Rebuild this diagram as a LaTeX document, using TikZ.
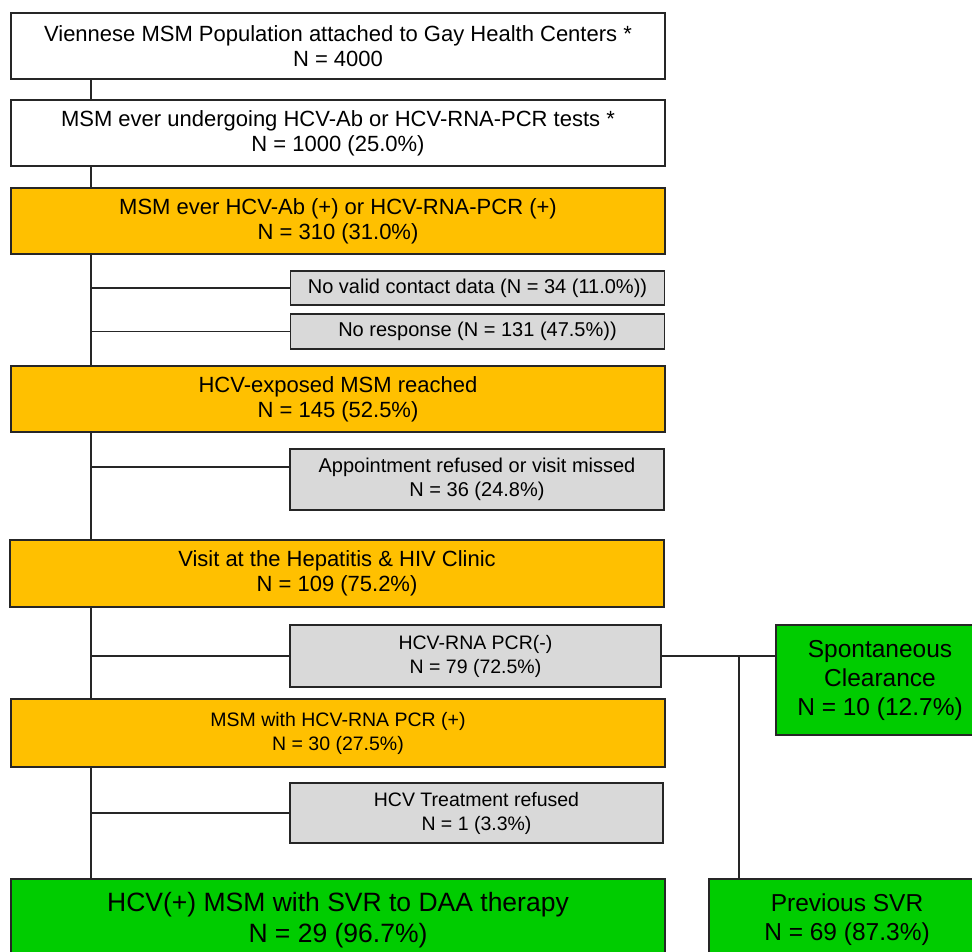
\documentclass[tikz,border=0pt]{standalone}
\usepackage{fontspec}
\setmainfont{Liberation Sans}
\usepackage{tikz}
\definecolor{figOrange}{HTML}{FFC000}
\definecolor{figGreen}{HTML}{00CC00}
\definecolor{figGray}{HTML}{D9D9D9}
\definecolor{figLine}{HTML}{262626}

\begin{document}
\begin{tikzpicture}[
  x=1pt, y=-1pt,
  box/.style={
    draw=figLine, line width=1.6pt, align=center, inner sep=0pt,
    font=\fontsize{22}{25}\selectfont,
  },
  mainbox/.style={box, minimum width=654pt, minimum height=66pt},
  whitebox/.style={mainbox, fill=white},
  orangebox/.style={mainbox, fill=figOrange},
  graybox/.style={box, fill=figGray, minimum width=374pt,
    font=\fontsize{20}{24}\selectfont},
  greenbox/.style={box, fill=figGreen, font=\fontsize{24.5}{29}\selectfont},
  smalltext/.style={font=\fontsize{19.5}{24}\selectfont},
  link/.style={draw=figLine, line width=1.6pt},
]

\useasboundingbox (0,0) rectangle (972,952);
\clip (0,0) rectangle (972,952);

% Main flow (left column)
\node[whitebox] (pop) at (338, 46) {Viennese MSM Population attached to Gay Health Centers *\\N = 4000};
\node[whitebox] (tested) at (338, 133) {MSM ever undergoing HCV-Ab or HCV-RNA-PCR tests *\\N = 1000 (25.0\%)};
\node[orangebox] (exposed) at (338, 221) {MSM ever HCV-Ab (+) or HCV-RNA-PCR (+)\\N = 310 (31.0\%)};
\node[orangebox] (reached) at (338, 399) {HCV-exposed MSM reached\\N = 145 (52.5\%)};
\node[orangebox, minimum height=67pt] (visit) at (337, 573.5) {Visit at the Hepatitis \& HIV Clinic\\N = 109 (75.2\%)};
\node[orangebox, smalltext, minimum height=68pt] (pcrpos) at (338, 733) {MSM with HCV-RNA PCR (+)\\N = 30 (27.5\%)};
\node[greenbox, minimum width=654pt, minimum height=82pt,
  font=\fontsize{26.5}{31}\selectfont] (svr) at (338, 920) {HCV(+) MSM with SVR to DAA therapy\\N = 29 (96.7\%)};

% Drop-outs (grey)
\node[graybox, minimum height=34pt] (nocontact) at (477.5, 288) {No valid contact data (N = 34 (11.0\%))};
\node[graybox, minimum height=35pt] (noresp) at (477.5, 331.5) {No response (N = 131 (47.5\%))};
\node[graybox, minimum height=61pt] (refused) at (477, 479.5) {Appointment refused or visit missed\\N = 36 (24.8\%)};
\node[graybox, smalltext, minimum width=371pt, minimum height=62pt] (pcrneg) at (475.5, 656) {HCV-RNA PCR(-)\\N = 79 (72.5\%)};
\node[graybox, smalltext, minimum width=373pt, minimum height=60pt] (txrefused) at (476.5, 813) {HCV Treatment refused\\N = 1 (3.3\%)};

% Right column (green)
\node[greenbox, minimum width=208pt, minimum height=110pt] (clearance) at (880, 680) {Spontaneous\\Clearance\\N = 10 (12.7\%)};
\node[greenbox, minimum width=276pt, minimum height=82pt] (prevsvr) at (847, 920) {Previous SVR\\N = 69 (87.3\%)};

% Trunk and branches
\coordinate (trunk) at (91, 0);
\coordinate (refjoin) at (290, 467);
\coordinate (split) at (739, 0);
\draw[link] (trunk |- pop.south) -- (trunk |- tested.north);
\draw[link] (trunk |- tested.south) -- (trunk |- exposed.north);
\draw[link] (trunk |- exposed.south) -- (trunk |- reached.north);
\draw[link] (trunk |- reached.south) -- (trunk |- visit.north);
\draw[link] (trunk |- visit.south) -- (trunk |- pcrpos.north);
\draw[link] (trunk |- pcrpos.south) -- (trunk |- svr.north);

\draw[link] (trunk |- nocontact.west) -- (nocontact.west);
\draw[link] (trunk |- noresp.west) -- (noresp.west);
\draw[link] (trunk |- refjoin) -- (refjoin);
\draw[link] (trunk |- pcrneg.west) -- (pcrneg.west);
\draw[link] (trunk |- txrefused.west) -- (txrefused.west);

% Split of PCR(-)
\draw[link] (pcrneg.east) -- (pcrneg.east -| clearance.west);
\draw[link] (split |- pcrneg.east) -- (split |- prevsvr.north);

\end{tikzpicture}
\end{document}
